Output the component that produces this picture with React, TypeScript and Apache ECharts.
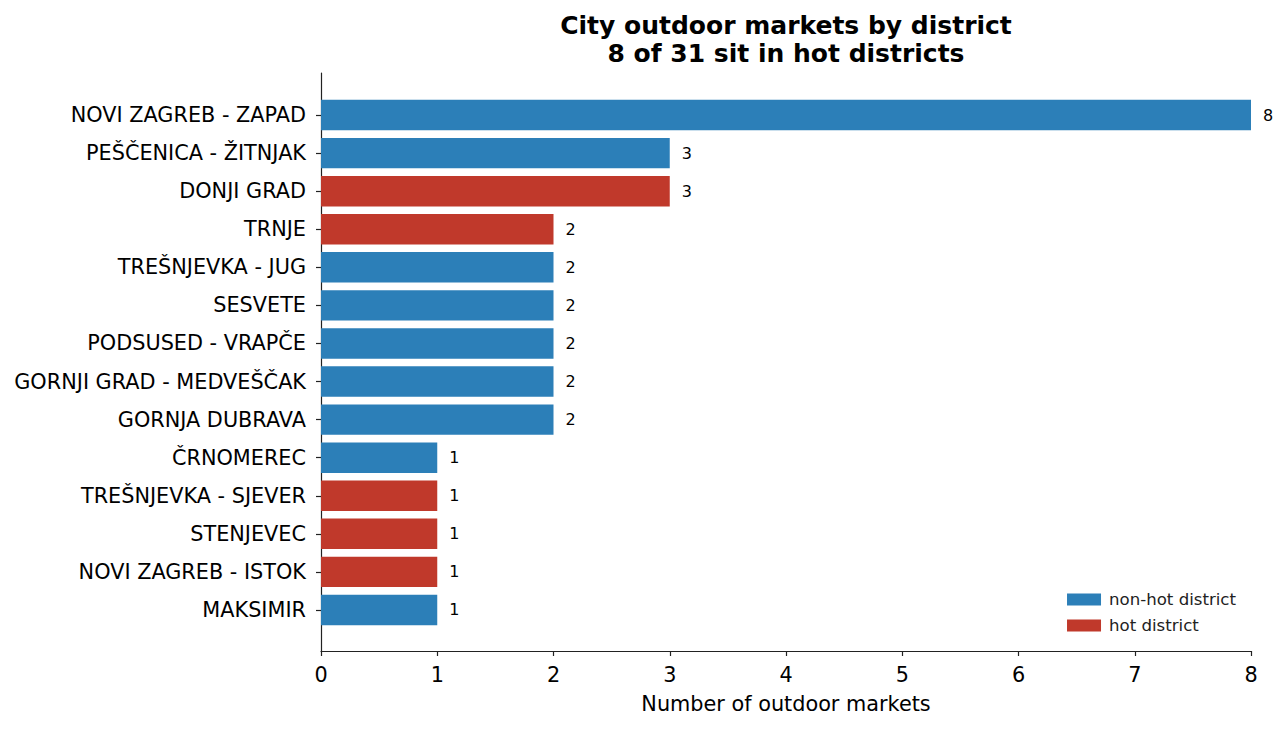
import React, { useEffect, useRef } from 'react';
import * as echarts from 'echarts';

// districts, top to bottom
const districts = [
  'NOVI ZAGREB - ZAPAD',
  'PEŠČENICA - ŽITNJAK',
  'DONJI GRAD',
  'TRNJE',
  'TREŠNJEVKA - JUG',
  'SESVETE',
  'PODSUSED - VRAPČE',
  'GORNJI GRAD - MEDVEŠČAK',
  'GORNJA DUBRAVA',
  'ČRNOMEREC',
  'TREŠNJEVKA - SJEVER',
  'STENJEVEC',
  'NOVI ZAGREB - ISTOK',
  'MAKSIMIR',
];
const marketCounts = [8, 3, 3, 2, 2, 2, 2, 2, 2, 1, 1, 1, 1, 1];
const isHot = [false, false, true, true, false, false, false, false, false, false, true, true, true, false];

const BLUE = '#2c7fb8';
const RED = '#c0392b';
const FONT = 'DejaVu Sans';

export default function App() {
  const chartRef = useRef<HTMLDivElement>(null);

  useEffect(() => {
    if (!chartRef.current) return;
    document.body.style.margin = '0';
    const chart = echarts.init(chartRef.current, null, { renderer: 'svg' });

    const nonHotData = marketCounts.map((v, i) => (isHot[i] ? '-' : v));
    const hotData = marketCounts.map((v, i) => (isHot[i] ? v : '-'));

    const valueLabel = {
      show: true,
      position: 'right',
      distance: 12,
      fontSize: 16,
      fontFamily: FONT,
      color: '#000',
    };

    chart.setOption({
      animation: false,
      textStyle: { fontFamily: FONT },
      title: {
        text: 'City outdoor markets by district\n8 of 31 sit in hot districts',
        left: 781,
        top: 6,
        textAlign: 'center',
        textStyle: { fontSize: 25, fontWeight: 'bold', color: '#000', lineHeight: 28, fontFamily: FONT },
      },
      legend: {
        orient: 'vertical',
        right: 46,
        bottom: 90,
        itemWidth: 34,
        itemHeight: 12,
        itemGap: 9,
        icon: 'rect',
        align: 'left',
        textStyle: { fontSize: 16.6, color: '#222', fontFamily: FONT, padding: [0, 0, 0, 3] },
        data: ['non-hot district', 'hot district'],
      },
      grid: [
        // bars
        { left: 321, right: 36, top: 96, height: 533 },
        // axis frame
        { left: 321, right: 36, top: 73, bottom: 78 },
      ],
      xAxis: [
        { gridIndex: 0, type: 'value', min: 0, max: 8, interval: 1, show: false },
        {
          gridIndex: 1,
          type: 'value',
          min: 0,
          max: 8,
          interval: 1,
          name: 'Number of outdoor markets',
          nameLocation: 'middle',
          nameGap: 42,
          nameTextStyle: { fontSize: 20.8, color: '#000', fontFamily: FONT },
          axisLine: { show: true, onZero: false, lineStyle: { color: '#222', width: 1.2 } },
          axisTick: { show: true, length: 5, lineStyle: { color: '#222', width: 1.2 } },
          axisLabel: { fontSize: 20.8, color: '#000', margin: 13, fontFamily: FONT },
          splitLine: { show: false },
        },
      ],
      yAxis: [
        {
          gridIndex: 0,
          type: 'category',
          inverse: true,
          data: districts,
          axisLine: { show: false },
          axisTick: { show: true, length: 5, alignWithLabel: true, lineStyle: { color: '#222', width: 1.2 } },
          axisLabel: { fontSize: 20.8, color: '#000', margin: 15, fontFamily: FONT, padding: [4, 0, 0, 0] },
        },
        {
          gridIndex: 1,
          type: 'value',
          min: 0,
          max: 1,
          axisLine: { show: true, onZero: false, lineStyle: { color: '#222', width: 1.2 } },
          axisTick: { show: false },
          axisLabel: { show: false },
          splitLine: { show: false },
        },
      ],
      series: [
        {
          name: 'non-hot district',
          type: 'bar',
          stack: 'markets',
          xAxisIndex: 0,
          yAxisIndex: 0,
          barWidth: '80%',
          itemStyle: { color: BLUE },
          label: valueLabel,
          data: nonHotData,
        },
        {
          name: 'hot district',
          type: 'bar',
          stack: 'markets',
          xAxisIndex: 0,
          yAxisIndex: 0,
          barWidth: '80%',
          itemStyle: { color: RED },
          label: valueLabel,
          data: hotData,
        },
      ],
    });

    const handleResize = () => chart.resize();
    window.addEventListener('resize', handleResize);
    return () => {
      window.removeEventListener('resize', handleResize);
      chart.dispose();
    };
  }, []);

  return <div ref={chartRef} style={{ width: '1287px', height: '729px' }} />;
}
